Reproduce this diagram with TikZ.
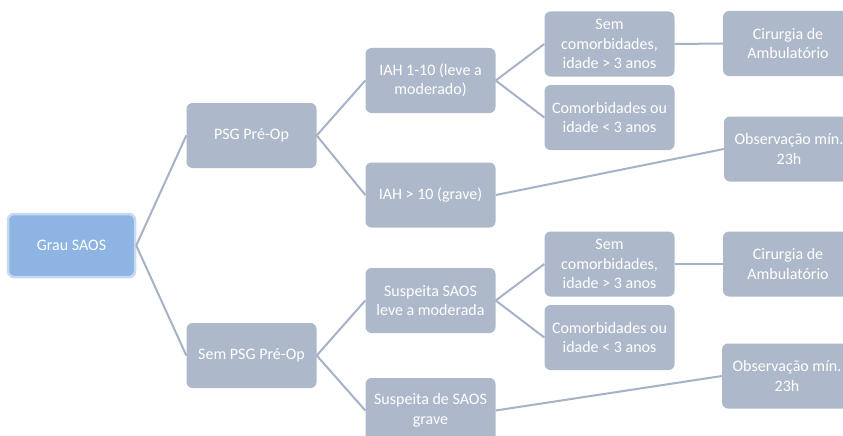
\documentclass[tikz,border=0pt]{standalone}
\usepackage{fontspec}
\setmainfont{Carlito}
\definecolor{boxfill}{HTML}{ADB9CA}
\definecolor{linecol}{HTML}{A6B2C7}
\definecolor{rootfill}{HTML}{8DB4E2}
\definecolor{rootedge}{HTML}{C6D9F1}
\begin{document}
\begin{tikzpicture}[x=1pt,y=-1pt,
  box/.style={rectangle, rounded corners=6pt, fill=boxfill, draw=none, text=white,
    minimum width=130pt, minimum height=65pt, align=center, inner sep=1pt,
    font=\fontsize{16}{19.5}\selectfont},
  rootbox/.style={box, fill=rootfill, draw=rootedge, line width=2.5pt,
    minimum width=127pt, minimum height=63pt},
  conn/.style={draw=linecol, line width=2pt}]
\useasboundingbox (0,0) rectangle (843,436);
\fill[white] (0,0) rectangle (843,436);
\node[rootbox] (g) at (71.5,245.5) {Grau SAOS};
\node[box] (p1) at (251.5,135.5) {PSG Pré-Op};
\node[box] (p2) at (251.5,355.5) {Sem PSG Pré-Op};
\node[box] (a1) at (430.5,80.5) {IAH 1-10 (leve a\\moderado)};
\node[box] (a2) at (430.5,195) {IAH > 10 (grave)};
\node[box] (a3) at (430.5,300.5) {Suspeita SAOS\\leve a moderada};
\node[box] (a4) at (430.5,410.5) {Suspeita de SAOS\\grave};
\node[box] (b1) at (609.5,44) {Sem\\comorbidades,\\idade > 3 anos};
\node[box] (b2) at (609.5,117.5) {Comorbidades ou\\idade < 3 anos};
\node[box] (b3) at (609.5,264) {Sem\\comorbidades,\\idade > 3 anos};
\node[box] (b4) at (609.5,337.5) {Comorbidades ou\\idade < 3 anos};
\node[box] (c1) at (788,43.5) {Cirurgia de\\Ambulatório};
\node[box] (c2) at (789,149) {Observação mín.\\23h};
\node[box] (c3) at (788,264) {Cirurgia de\\Ambulatório};
\node[box] (c4) at (787,376) {Observação mín.\\23h};
\draw[conn] (g.east) -- (p1.west);
\draw[conn] (g.east) -- (p2.west);
\draw[conn] (p1.east) -- (a1.west);
\draw[conn] (p1.east) -- (a2.west);
\draw[conn] (p2.east) -- (a3.west);
\draw[conn] (p2.east) -- (a4.west);
\draw[conn] (a1.east) -- (b1.west);
\draw[conn] (a1.east) -- (b2.west);
\draw[conn] (a3.east) -- (b3.west);
\draw[conn] (a3.east) -- (b4.west);
\draw[conn] (b1.east) -- (c1.west);
\draw[conn] (b3.east) -- (c3.west);
\draw[conn] (a2.east) -- (c2.west);
\draw[conn] (a4.east) -- (c4.west);
\end{tikzpicture}
\end{document}
